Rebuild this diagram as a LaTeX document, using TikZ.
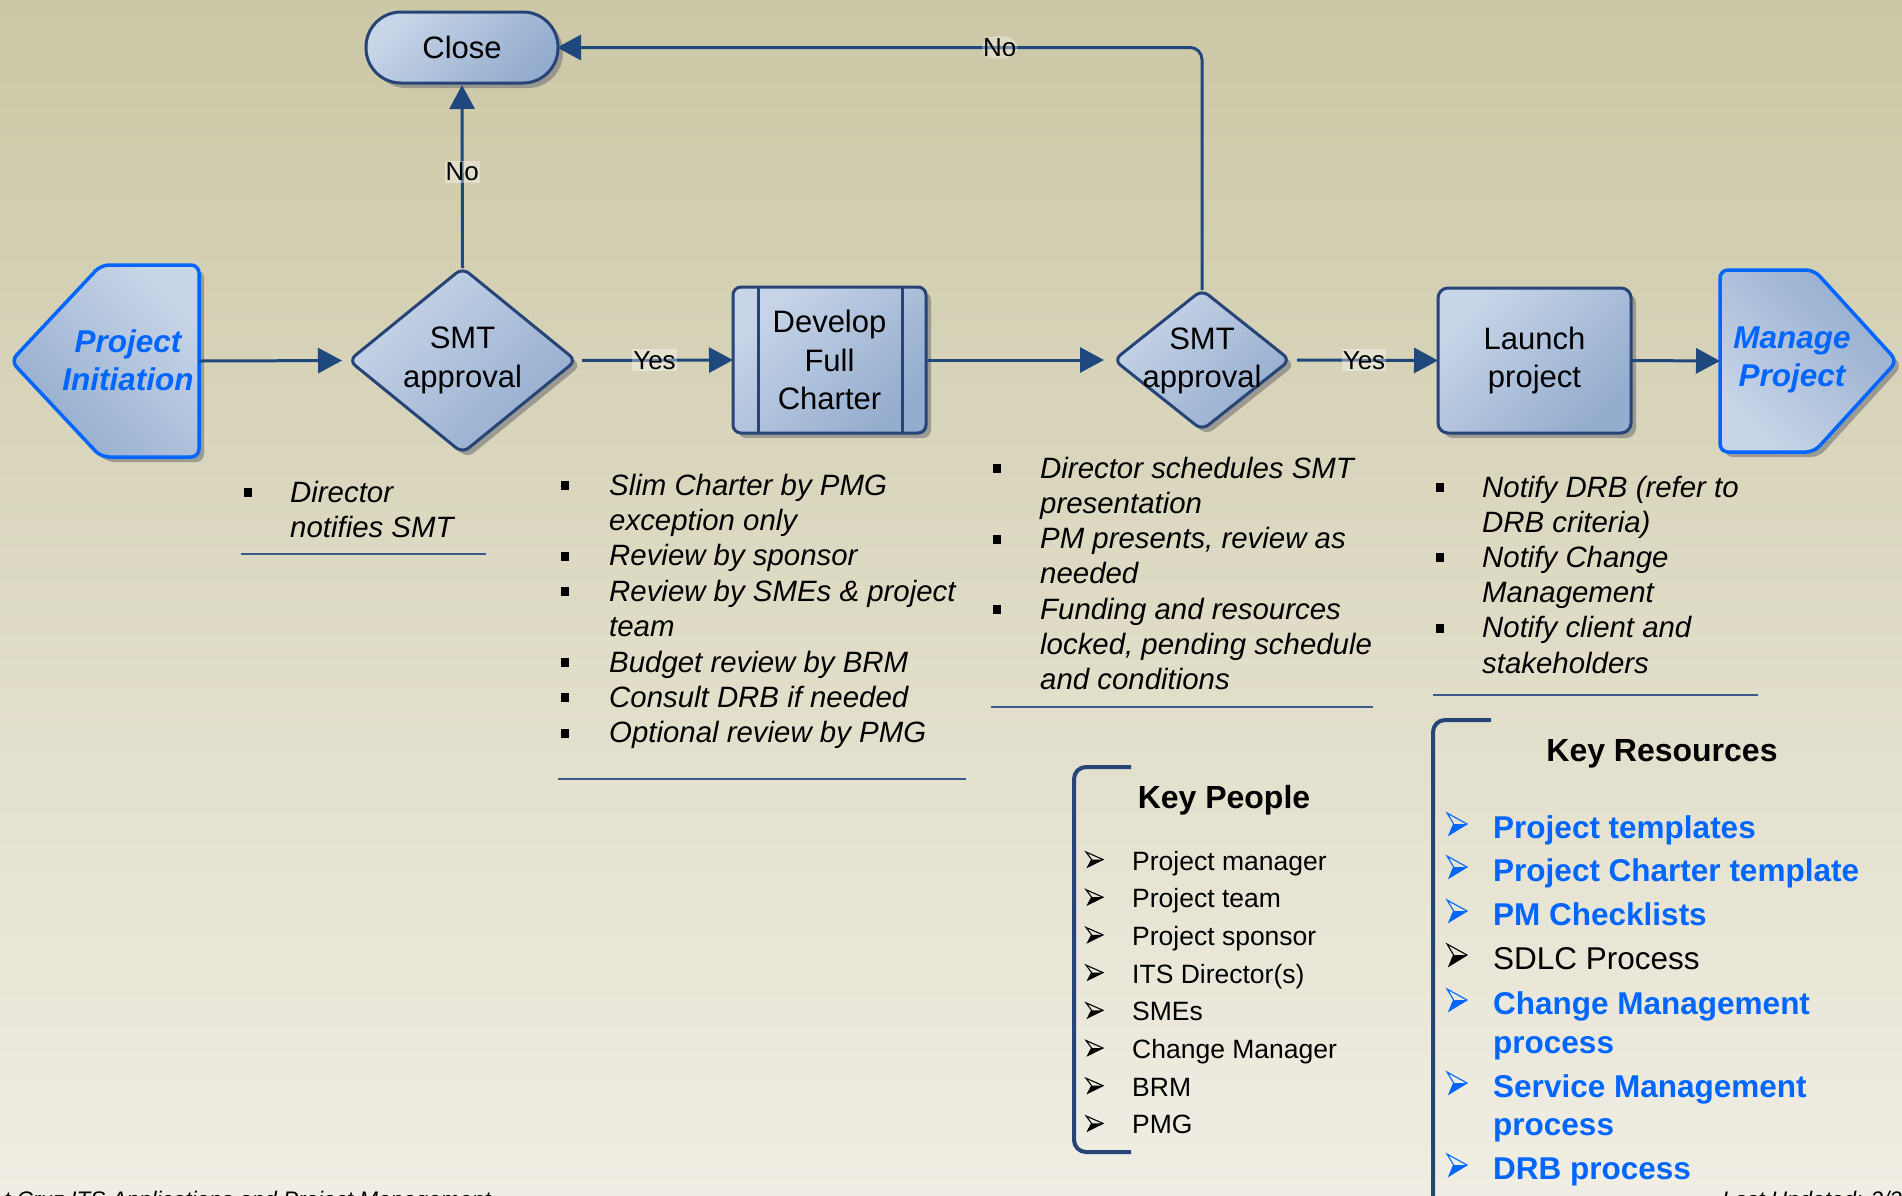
\documentclass[tikz,border=0pt]{standalone}
\usepackage{fontspec}
\setmainfont{Liberation Sans}
\usetikzlibrary{shapes.geometric,arrows.meta,shadows,calc}
\definecolor{bgtop}{RGB}{204,199,165}
\definecolor{bgbot}{RGB}{240,238,228}
\definecolor{nlight}{RGB}{200,213,232}
\definecolor{ndark}{RGB}{148,172,206}
\definecolor{nborder}{RGB}{38,68,118}
\definecolor{arrc}{RGB}{31,73,125}
\definecolor{brightblue}{RGB}{0,102,255}
\definecolor{shadc}{RGB}{130,130,130}
\definecolor{rulec}{RGB}{60,90,140}
\newcommand\arrbul[5]{% x, yc, color, w, h
  \draw[#3, line width=1.1pt, line join=miter] ({#1},{#2-#5/2}) -- ({#1+#4},{#2}) -- ({#1+0.1*#4},{#2+#5/2}) -- ({#1+0.33*#4},{#2}) -- cycle;
  \fill[#3] ({#1+0.33*#4},{#2}) -- ({#1+#4},{#2}) -- ({#1+0.1*#4},{#2+#5/2}) -- cycle;}
\begin{document}
\begin{tikzpicture}[x=1pt,y=-1pt,
  shad/.style={drop shadow={shadow xshift=5pt,shadow yshift=-5pt,fill=shadc,opacity=0.7}},
  flowbox/.style={draw=nborder, line width=3pt, top color=nlight, bottom color=ndark, shading angle=45, shad, outer sep=0pt, inner sep=0pt,
    font=\fontsize{31}{38.5}\selectfont, align=center},
  flowtxt/.style={font=\fontsize{31}{38.5}\selectfont, align=center, inner sep=0pt},
  termtxt/.style={font=\fontsize{31.5}{38.5}\selectfont\bfseries\itshape, text=brightblue, align=center, inner sep=0pt},
  conn/.style={draw=arrc, line width=3pt, -{Triangle[length=24pt,width=25pt]}},
  lbl/.style={font=\fontsize{26}{30}\selectfont, fill=white, fill opacity=0.35, text opacity=1, inner xsep=1pt, inner ysep=2pt, text=black},
  itxt/.style={font=\fontsize{29.4}{35.4}\selectfont\itshape, anchor=base west, inner sep=0pt},
  kptxt/.style={font=\fontsize{26.5}{32}\selectfont, anchor=base west, inner sep=0pt},
  krtxt/.style={font=\fontsize{31.5}{38}\selectfont\bfseries, text=brightblue, anchor=base west, inner sep=0pt},
  ttl/.style={font=\fontsize{32}{38}\selectfont\bfseries, anchor=base, inner sep=0pt},
  rulel/.style={draw=rulec, line width=1.5pt},
  bracket/.style={draw=nborder, line width=4pt, rounded corners=12pt},
  foot/.style={font=\fontsize{22.5}{27}\selectfont\itshape, anchor=base west, inner sep=0pt}
]
\useasboundingbox (0,0) rectangle (1902,1195);
\clip (0,0) rectangle (1902,1195);
\fill[top color=bgtop, bottom color=bgbot] (0,0) rectangle (1902,1195);

% Project Initiation (terminator pointing left)
\node[minimum width=188pt, minimum height=192pt, inner sep=0pt, outer sep=0pt] (pi) at (105,361) {};
\path[draw=brightblue, line width=3.5pt, top color=nlight, bottom color=ndark, shading angle=-45, shad, rounded corners=8pt]
  (11,361) -- (101,265) -- (199,265) -- (199,457) -- (101,457) -- cycle;
\node[termtxt] (pit) at (128,360) {Project\\Initiation};

% Manage Project (pointing right)
\node[minimum width=177pt, minimum height=182pt, inner sep=0pt, outer sep=0pt] (mp) at (1808.5,361) {};
\path[draw=brightblue, line width=3.5pt, top color=ndark, bottom color=nlight, shading angle=-45, shad, rounded corners=8pt]
  (1720,270) -- (1814,270) -- (1897,361) -- (1814,452) -- (1720,452) -- cycle;
\node[termtxt] (mpt) at (1792,360) {Manage\\Project};

% Close
\node[flowbox, rounded corners=35pt, minimum width=192pt, minimum height=71pt] (close) at (462,47.5) {Close};

% SMT approval 1
\node[flowbox, diamond, aspect=1.227, minimum width=227pt, minimum height=185pt, rounded corners=8pt] (d1) at (462.5,360.5) {SMT\\approval};

% Develop Full Charter
\node[flowbox, rounded corners=8pt, minimum width=193pt, minimum height=146pt] (dev) at (829.5,360) {Develop\\Full\\Charter};
\draw[nborder, line width=3pt] ([xshift=25pt]dev.north west) -- ([xshift=25pt]dev.south west);
\draw[nborder, line width=3pt] ([xshift=-24pt]dev.north east) -- ([xshift=-24pt]dev.south east);

% SMT approval 2
\node[flowbox, diamond, minimum width=176pt, minimum height=140pt, rounded corners=8pt] (d2) at (1202,360) {};
\node[flowtxt] (d2t) at (1202,361) {SMT\\approval};

% Launch project
\node[flowbox, rounded corners=10pt, minimum width=193pt, minimum height=145pt] (lp) at (1534.5,360.5) {Launch\\project};

% connectors
\draw[conn, shorten >=7pt] (pi.east) -- (d1.west);
\draw[conn, shorten >=2pt] (d1.north) -- node[lbl, pos=0.52] {No} (close.south);
\draw[conn, shorten <=6pt] (d1.east) -- node[lbl, pos=0.5] {Yes} (dev.west);
\draw[conn, shorten >=10pt] (dev.east) -- (d2.west);
\draw[conn, shorten <=7pt] (d2.east) -- node[lbl, pos=0.5] {Yes} (lp.west);
\draw[conn] (lp.east) -- (mp.west);
\coordinate (cnr) at (d2.north |- close.east);
\draw[conn, rounded corners=12pt, shorten >=-1pt] (d2.north) -- (cnr) -- node[lbl, pos=0.314] {No} (close.east);

% Block 1
\foreach \t [count=\i from 0] in {Director, notifies SMT}
  \node[itxt] (ba\i) at (290,{502+35*\i}) {\t};
\fill (244,{502-14}) rectangle ++(8,9);
\draw[rulel] (241,554) -- (486,554);

% Block 2
\foreach \t [count=\i from 0] in {Slim Charter by PMG, exception only, Review by sponsor, Review by SMEs \& project, team, Budget review by BRM, Consult DRB if needed, Optional review by PMG}
  \node[itxt] (bb\i) at (609,{495+35.4*\i}) {\t};
\foreach \i in {0,2,3,5,6,7}
  \fill (561,{495+35.4*\i-14}) rectangle ++(8,9);
\draw[rulel] (558,779) -- (966,779);

% Block 3
\foreach \t [count=\i from 0] in {Director schedules SMT, presentation, {PM presents, review as}, needed, Funding and resources, {locked, pending schedule}, and conditions}
  \node[itxt] (bc\i) at (1040,{478+35.3*\i}) {\t};
\foreach \i in {0,2,4}
  \fill (993,{478+35.3*\i-14}) rectangle ++(8,9);
\draw[rulel] (991,707) -- (1373,707);

% Block 4
\foreach \t [count=\i from 0] in {Notify DRB (refer to, DRB criteria), Notify Change, Management, Notify client and, stakeholders}
  \node[itxt] (bd\i) at (1482,{497+35.2*\i}) {\t};
\foreach \i in {0,2,4}
  \fill (1436,{497+35.2*\i-14}) rectangle ++(8,9);
\draw[rulel] (1433,695) -- (1758,695);

% Key People
\draw[bracket] (1131,767) -- (1074,767) -- (1074,1152) -- (1131,1152);
\node[ttl] (kpt) at (1224,808.5) {Key People};
\foreach \t [count=\i from 0] in {Project manager, Project team, Project sponsor, ITS Director(s), SMEs, Change Manager, BRM, PMG}{
  \node[kptxt] (kp\i) at (1132,{870+37.7*\i}) {\t};
  \arrbul{1086}{870+37.7*\i-10.5}{black}{17}{15}
}

% Key Resources
\draw[bracket] (1491,720) -- (1433,720) -- (1433,1210) -- (1491,1210);
\node[ttl] (krt) at (1662,761) {Key Resources};
\node[krtxt] (kr1) at (1493,838) {Project templates};
\node[krtxt] (kr2) at (1493,881) {Project Charter template};
\node[krtxt] (kr3) at (1493,925) {PM Checklists};
\node[krtxt, font=\fontsize{31.5}{38}\selectfont, text=black] (kr4) at (1493,969) {SDLC Process};
\node[krtxt] (kr5) at (1493,1014) {Change Management};
\node[krtxt] (kr5b) at (1493,1053) {process};
\node[krtxt] (kr6) at (1493,1097) {Service Management};
\node[krtxt] (kr6b) at (1493,1135) {process};
\node[krtxt] (kr7) at (1493,1179) {DRB process};
\foreach \y in {838,881,925,1014,1097,1179}{
  \arrbul{1447}{\y-14}{brightblue}{20}{22}
}
\arrbul{1447}{969-14}{black}{20}{22}

% footer
\node[foot] (f1) at (4,1207) {t Cruz ITS Applications and Project Management};
\node[foot] (f2) at (1722,1207) {Last Updated: 2/20};
\end{tikzpicture}
\end{document}
